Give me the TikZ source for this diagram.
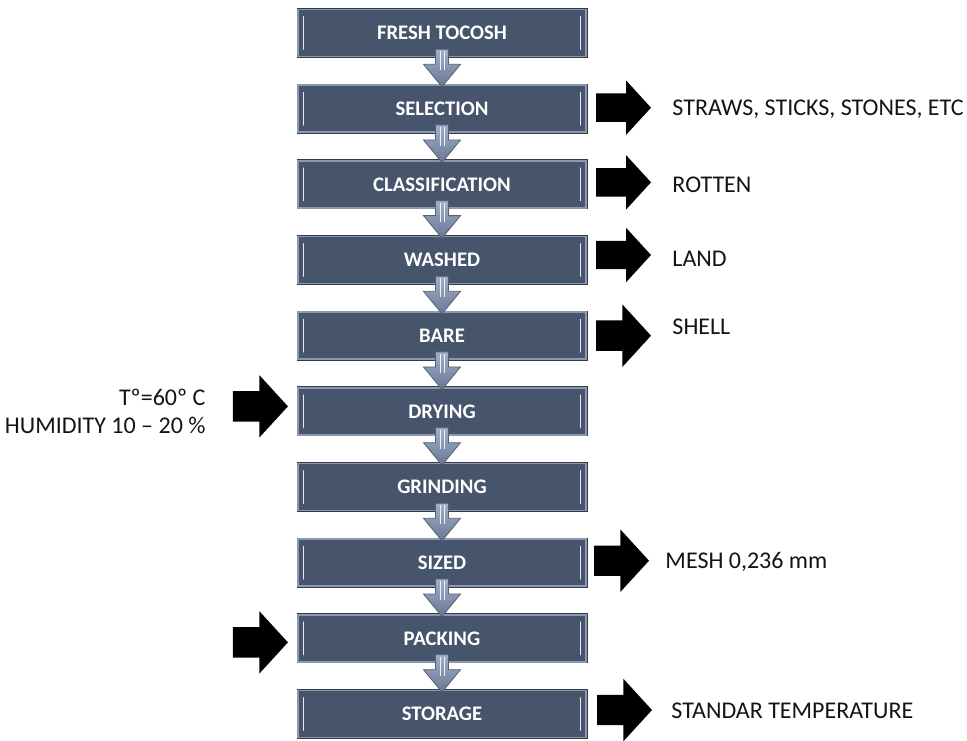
\documentclass[tikz,border=0pt]{standalone}
\usepackage{fontspec}
\setmainfont{Carlito}
\usepackage{tikz}
\usetikzlibrary{positioning,shapes.arrows}

\definecolor{boxfill}{RGB}{70,84,108}
\definecolor{boxrim}{RGB}{138,152,176}
\definecolor{boxdark}{RGB}{52,58,70}
\definecolor{flowfill}{RGB}{138,156,184}
\definecolor{flowtop}{RGB}{160,176,202}
\definecolor{flowbottom}{RGB}{104,120,148}
\definecolor{flowline}{RGB}{88,96,112}
\definecolor{labelgray}{RGB}{20,20,20}

\tikzset{
  stepbox/.style={preaction={draw=boxdark, line width=3pt}, draw=boxrim, line width=1.6pt,
    fill=boxfill, minimum width=288pt, minimum height=47pt, inner sep=0pt,
    text=white, font=\bfseries\fontsize{20.7}{22}\selectfont},
  glint/.style={draw=white!80!boxrim, line width=1.2pt, line cap=round},
  flowdown/.style={top color=flowtop, bottom color=flowbottom, draw=flowline, line width=0.8pt, line join=miter},
  flowshine/.style={draw=white!85!flowfill, line width=0.7pt},
  sidearrow/.style={single arrow, fill=black, draw=none, inner xsep=0pt, inner ysep=14pt,
    minimum height=55pt, single arrow head extend=13pt, single arrow tip angle=95},
  bigarrow/.style={sidearrow, inner ysep=15pt, single arrow head extend=16pt},
  sidetext/.style={text=labelgray, font=\fontsize{24}{28}\selectfont, inner sep=0pt}
}

\begin{document}
\begin{tikzpicture}[x=1pt, y=-1pt]
  \useasboundingbox (0,0) rectangle (967,740);

  % process steps
  \foreach \name/\txt [count=\i from 0] in {fresh/FRESH TOCOSH, select/SELECTION,
      classif/CLASSIFICATION, washed/WASHED, bare/BARE, drying/DRYING,
      grinding/GRINDING, sized/SIZED, packing/PACKING, storage/STORAGE}
  {
    \node[stepbox] (\name) at (442, {33+75.67*\i}) {\txt};
    \draw[glint] ([xshift=6pt, yshift=-8pt]\name.north west) -- ([xshift=6pt, yshift=8pt]\name.south west);
    \draw[glint] ([xshift=-6pt, yshift=-8pt]\name.north east) -- ([xshift=-6pt, yshift=8pt]\name.south east);
  }

  % arrows between steps
  \foreach \a/\b in {fresh/select, select/classif, classif/washed, washed/bare, bare/drying,
      drying/grinding, grinding/sized, sized/packing, packing/storage}
  {
    \draw[flowdown] ([xshift=-6.5pt, yshift=8pt]\a.south) -- ([xshift=-6.5pt, yshift=-7pt]\a.south)
      -- ([xshift=-18.5pt, yshift=-7pt]\a.south) -- ([yshift=-2.5pt]\b.north)
      -- ([xshift=18.5pt, yshift=-7pt]\a.south) -- ([xshift=6.5pt, yshift=-7pt]\a.south)
      -- ([xshift=6.5pt, yshift=8pt]\a.south) -- cycle;
    \draw[flowshine] ([xshift=-2pt, yshift=6pt]\a.south) -- ([xshift=-2pt, yshift=-13pt]\a.south);
    \draw[flowshine] ([xshift=2pt, yshift=6pt]\a.south) -- ([xshift=2pt, yshift=-13pt]\a.south);
  }

  % outputs on the right
  \node[sidearrow, right=9pt of select, yshift=1pt] (selout) {};
  \node[sidetext, right=21pt of selout, anchor=west, yshift=-2pt] (sellab) {STRAWS, STICKS, STONES, ETC};

  \node[sidearrow, right=9pt of classif, yshift=2pt] (classout) {};
  \node[sidetext, right=21pt of classout, anchor=west, yshift=-2pt] (classlab) {ROTTEN};

  \node[sidearrow, right=9pt of washed, yshift=5pt] (washout) {};
  \node[sidetext, right=21pt of washout, anchor=west, yshift=-4pt] (washlab) {LAND};

  \node[bigarrow, right=9pt of bare] (bareout) {};
  \node[sidetext, right=21pt of bareout, anchor=west, yshift=9pt] (barelab) {SHELL};

  \node[bigarrow, right=7pt of sized, yshift=2pt] (sizedout) {};
  \node[sidetext, right=16pt of sizedout, anchor=west, yshift=-1pt] (sizedlab) {MESH 0,236 mm};

  \node[bigarrow, right=10pt of storage, yshift=4pt] (storeout) {};
  \node[sidetext, right=19pt of storeout, anchor=west, yshift=-1pt] (storelab) {STANDAR TEMPERATURE};

  % inputs on the left
  \node[bigarrow, left=9pt of drying, yshift=5pt] (dryin) {};
  \node[sidetext, align=right, left=27pt of dryin, anchor=east, yshift=-5pt] (drylab) {Tº=60º C\\HUMIDITY 10 – 20 \%};

  \node[bigarrow, left=9pt of packing, yshift=-4pt] (packin) {};
\end{tikzpicture}
\end{document}
